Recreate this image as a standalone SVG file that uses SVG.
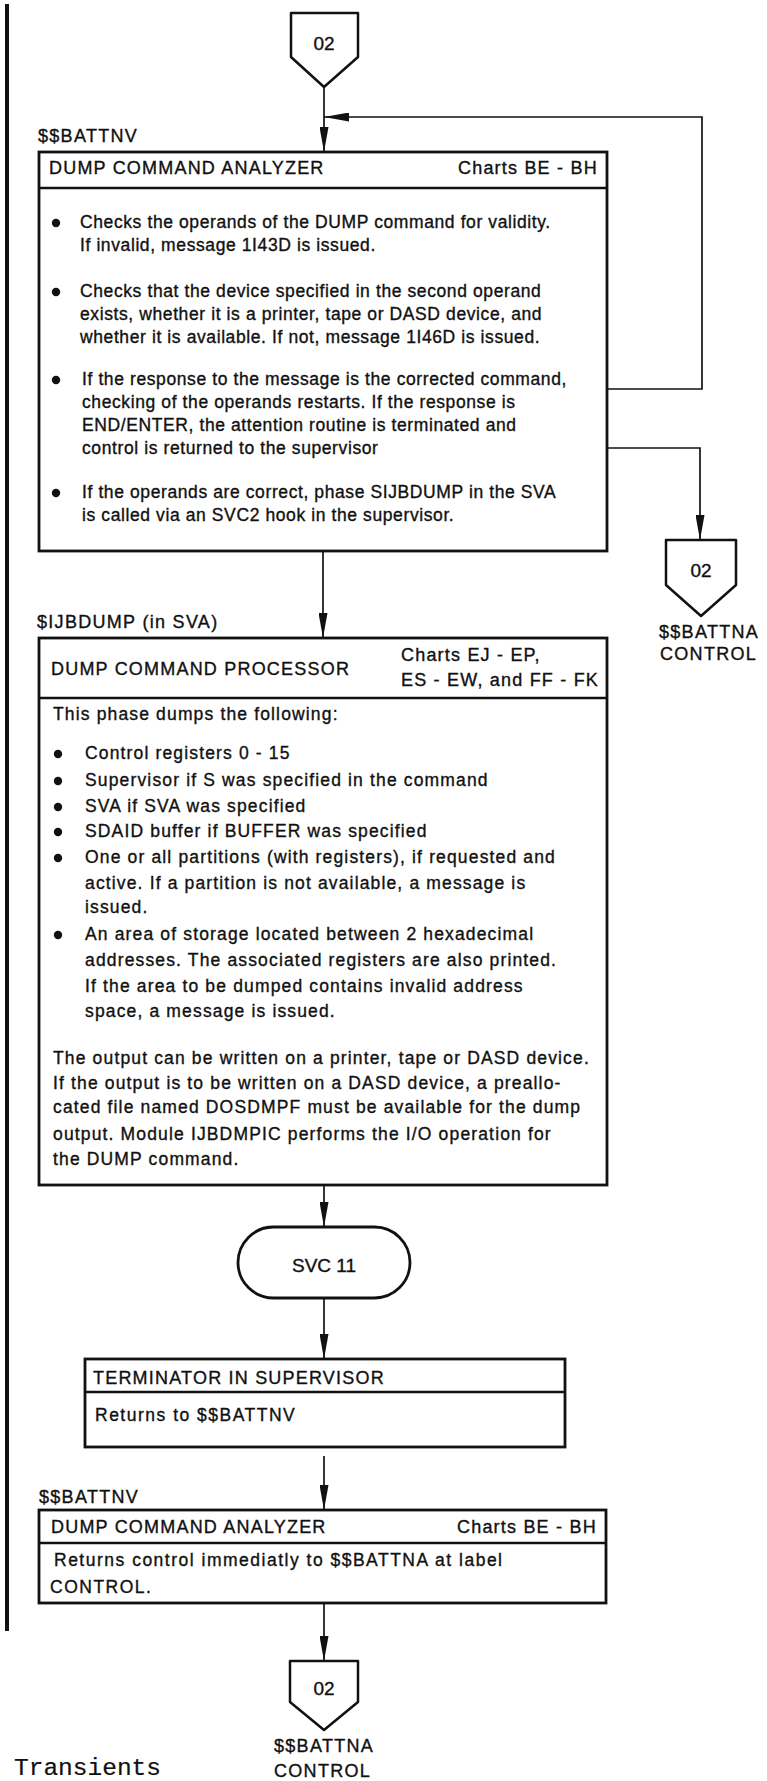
<svg xmlns="http://www.w3.org/2000/svg" width="767" height="1781" viewBox="0 0 767 1781">
  <style>
    .bg { fill: #ffffff; }
    .box { fill: #ffffff; stroke: #111; stroke-width: 2.8; }
    .div { stroke: #111; stroke-width: 2.6; fill: none; }
    .conn { fill: #ffffff; stroke: #111; stroke-width: 2.5; stroke-linejoin: round; }
    .term { fill: #ffffff; stroke: #111; stroke-width: 2.8; }
    .line { stroke: #111; stroke-width: 1.7; fill: none; }
    text { fill: #111; stroke: #111; stroke-width: 0.35px; }
    .t1 { font-family: "Liberation Sans", Arial, sans-serif; font-size: 17.5px; letter-spacing: 0.6px; }
    .t2 { font-family: "Liberation Sans", Arial, sans-serif; font-size: 17.5px; letter-spacing: 1.15px; }
    .t3 { font-family: "Liberation Sans", Arial, sans-serif; font-size: 17.5px; letter-spacing: 1.5px; }
    .h { font-family: "Liberation Sans", Arial, sans-serif; font-size: 18px; letter-spacing: 1.2px; }
    .lab { font-family: "Liberation Sans", Arial, sans-serif; font-size: 18px; letter-spacing: 1.3px; }
    .num { font-family: "Liberation Sans", Arial, sans-serif; font-size: 19px; text-anchor: middle; }
    .mono { font-family: "Liberation Mono", "Courier New", monospace; font-size: 24.5px; stroke-width: 0.2px; }
    .dot { fill: #111; }
  </style>
  <defs>
    <marker id="arrow" markerUnits="userSpaceOnUse" markerWidth="25" markerHeight="9" refX="25" refY="4.5" orient="auto">
      <path d="M0,0 L25,4.5 L0,9 Z" fill="#111"/>
    </marker>
  </defs>

  <rect class="bg" x="0" y="0" width="767" height="1781"/>

  <!-- change bar along the left margin -->
  <rect x="5" y="4" width="4" height="1627" fill="#111"/>

  <!-- connectors -->
  <g id="connectors">
    <line class="line" x1="324" y1="87" x2="324" y2="152" marker-end="url(#arrow)"/>
    <polyline class="line" points="361,389 702,389 702,117 324,117" marker-end="url(#arrow)"/>
    <polyline class="line" points="396,448 700,448 700,540" marker-end="url(#arrow)"/>
    <line class="line" x1="323" y1="551" x2="323" y2="638" marker-end="url(#arrow)"/>
    <line class="line" x1="324" y1="1185" x2="324" y2="1227" marker-end="url(#arrow)"/>
    <line class="line" x1="324" y1="1298" x2="324" y2="1359" marker-end="url(#arrow)"/>
    <line class="line" x1="324" y1="1456" x2="324" y2="1510" marker-end="url(#arrow)"/>
    <line class="line" x1="324" y1="1603" x2="324" y2="1661" marker-end="url(#arrow)"/>
  </g>

  <!-- entry off-page connector -->
  <g id="conn-top">
    <path class="conn" d="M291,13 L358,13 L358,57 L324,87 L291,57 Z"/>
    <text class="num" x="324" y="50">02</text>
  </g>

  <!-- first pass of the analyzer -->
  <g id="analyzer-1">
    <text class="lab" x="38" y="142">$$BATTNV</text>
    <rect class="box" x="39" y="152" width="568" height="399"/>
    <line class="div" x1="39" y1="188" x2="607" y2="188"/>
    <text class="h" x="49" y="174">DUMP COMMAND ANALYZER</text>
    <text class="h" x="458" y="174">Charts BE - BH</text>

    <circle class="dot" cx="56" cy="223" r="4.2"/>
    <text class="t1" x="80" y="228">Checks the operands of the DUMP command for validity.</text>
    <text class="t1" x="80" y="251">If invalid, message 1I43D is issued.</text>

    <circle class="dot" cx="56" cy="292" r="4.2"/>
    <text class="t1" x="80" y="297">Checks that the device specified in the second operand</text>
    <text class="t1" x="80" y="320">exists, whether it is a printer, tape or DASD device, and</text>
    <text class="t1" x="80" y="343">whether it is available. If not, message 1I46D is issued.</text>

    <circle class="dot" cx="56" cy="380" r="4.2"/>
    <text class="t1" x="82" y="385">If the response to the message is the corrected command,</text>
    <text class="t1" x="82" y="408">checking of the operands restarts. If the response is</text>
    <text class="t1" x="82" y="431">END/ENTER, the attention routine is terminated and</text>
    <text class="t1" x="82" y="454">control is returned to the supervisor</text>

    <circle class="dot" cx="56" cy="493" r="4.2"/>
    <text class="t1" x="82" y="498">If the operands are correct, phase SIJBDUMP in the SVA</text>
    <text class="t1" x="82" y="521">is called via an SVC2 hook in the supervisor.</text>
  </g>

  <!-- exit connector on the right -->
  <g id="conn-right">
    <path class="conn" d="M666,540 L736,540 L736,585 L701,616 L666,585 Z"/>
    <text class="num" x="701" y="577">02</text>
    <text class="lab" x="659" y="638">$$BATTNA</text>
    <text class="lab" x="660" y="660">CONTROL</text>
  </g>

  <!-- dump command processor in the SVA -->
  <g id="processor">
    <text class="lab" x="37" y="628">$IJBDUMP (in SVA)</text>
    <rect class="box" x="39" y="638" width="568" height="547"/>
    <line class="div" x1="39" y1="698" x2="607" y2="698"/>
    <text class="h" x="51" y="675">DUMP COMMAND PROCESSOR</text>
    <text class="h" x="401" y="661">Charts EJ - EP,</text>
    <text class="h" x="401" y="686">ES - EW, and FF - FK</text>

    <text class="t2" x="53" y="720">This phase dumps the following:</text>

    <circle class="dot" cx="58" cy="754" r="4.2"/>
    <text class="t2" x="85" y="759">Control registers 0 - 15</text>
    <circle class="dot" cx="58" cy="781" r="4.2"/>
    <text class="t2" x="85" y="786">Supervisor if S was specified in the command</text>
    <circle class="dot" cx="58" cy="807" r="4.2"/>
    <text class="t2" x="85" y="812">SVA if SVA was specified</text>
    <circle class="dot" cx="58" cy="832" r="4.2"/>
    <text class="t2" x="85" y="837">SDAID buffer if BUFFER was specified</text>
    <circle class="dot" cx="58" cy="858" r="4.2"/>
    <text class="t2" x="85" y="863">One or all partitions (with registers), if requested and</text>
    <text class="t2" x="85" y="889">active. If a partition is not available, a message is</text>
    <text class="t2" x="85" y="913">issued.</text>
    <circle class="dot" cx="58" cy="935" r="4.2"/>
    <text class="t2" x="85" y="940">An area of storage located between 2 hexadecimal</text>
    <text class="t2" x="85" y="966">addresses. The associated registers are also printed.</text>
    <text class="t2" x="85" y="992">If the area to be dumped contains invalid address</text>
    <text class="t2" x="85" y="1017">space, a message is issued.</text>

    <text class="t2" x="53" y="1064">The output can be written on a printer, tape or DASD device.</text>
    <text class="t2" x="53" y="1089">If the output is to be written on a DASD device, a preallo-</text>
    <text class="t2" x="53" y="1113">cated file named DOSDMPF must be available for the dump</text>
    <text class="t2" x="53" y="1140">output. Module IJBDMPIC performs the I/O operation for</text>
    <text class="t2" x="53" y="1165">the DUMP command.</text>
  </g>

  <!-- SVC 11 terminal -->
  <g id="svc11">
    <rect class="term" x="238" y="1227" width="172" height="71" rx="35.5" ry="35.5"/>
    <text class="num" x="324" y="1272">SVC 11</text>
  </g>

  <!-- supervisor terminator -->
  <g id="terminator">
    <rect class="box" x="85" y="1359" width="480" height="88"/>
    <line class="div" x1="85" y1="1392" x2="565" y2="1392"/>
    <text class="h" x="93" y="1384">TERMINATOR IN SUPERVISOR</text>
    <text class="t3" x="95" y="1421">Returns to $$BATTNV</text>
  </g>

  <!-- second pass of the analyzer -->
  <g id="analyzer-2">
    <text class="lab" x="39" y="1503">$$BATTNV</text>
    <rect class="box" x="39" y="1510" width="567" height="93"/>
    <line class="div" x1="39" y1="1543" x2="606" y2="1543"/>
    <text class="h" x="51" y="1533">DUMP COMMAND ANALYZER</text>
    <text class="h" x="457" y="1533">Charts BE - BH</text>
    <text class="t3" x="54" y="1566">Returns control immediatly to $$BATTNA at label</text>
    <text class="t3" x="50" y="1593">CONTROL.</text>
  </g>

  <!-- exit connector at the bottom -->
  <g id="conn-bottom">
    <path class="conn" d="M290,1661 L358,1661 L358,1702 L324,1730 L290,1702 Z"/>
    <text class="num" x="324" y="1695">02</text>
    <text class="lab" x="274" y="1752">$$BATTNA</text>
    <text class="lab" x="274" y="1777">CONTROL</text>
  </g>

  <text class="mono" x="14" y="1775">Transients</text>
</svg>
